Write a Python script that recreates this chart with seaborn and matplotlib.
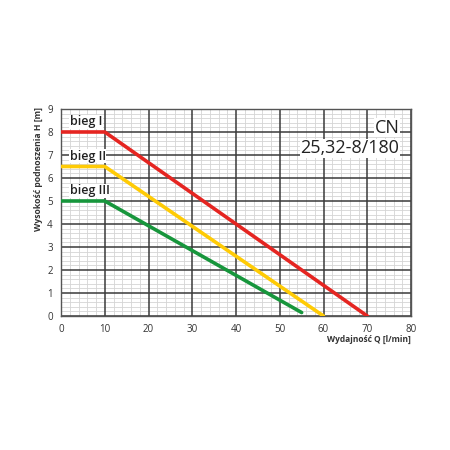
import matplotlib
matplotlib.use("Agg")
import matplotlib.pyplot as plt
import seaborn as sns
import pandas as pd
from matplotlib.ticker import MultipleLocator

# Data
speeds = ["bieg I", "bieg II", "bieg III"]
q_bieg1 = [0, 10, 70]
h_bieg1 = [8, 8, 0]
q_bieg2 = [0, 10, 60]
h_bieg2 = [6.5, 6.5, 0]
q_bieg3 = [0, 10, 55]
h_bieg3 = [5, 5, 0.15]
colors = ["#e52521", "#ffcb05", "#17963c"]
x_ticks = [0, 10, 20, 30, 40, 50, 60, 70, 80]
y_ticks = [0, 1, 2, 3, 4, 5, 6, 7, 8, 9]

rows = []
for name, qs, hs in zip(speeds, [q_bieg1, q_bieg2, q_bieg3], [h_bieg1, h_bieg2, h_bieg3]):
    for q, h in zip(qs, hs):
        rows.append({"bieg": name, "Q": q, "H": h})
df = pd.DataFrame(rows)

sns.set_style("white")
plt.rcParams["font.family"] = ["Open Sans", "DejaVu Sans"]

fig = plt.figure(figsize=(4.5, 4.5), dpi=100)
ax = fig.add_axes([0.1356, 0.2978, 0.7778, 0.46])

ax.xaxis.set_minor_locator(MultipleLocator(2))
ax.yaxis.set_minor_locator(MultipleLocator(0.2))
ax.grid(which="minor", color="#d4d4d4", lw=0.6, zorder=0)
ax.grid(which="major", visible=False)
ax.set_axisbelow(True)
for xv in x_ticks:
    ax.axvline(xv, color="#3a3a3a", lw=1.1, zorder=1)
for yv in y_ticks:
    ax.axhline(yv, color="#3a3a3a", lw=1.1, zorder=1)

sns.lineplot(data=df, x="Q", y="H", hue="bieg", palette=colors, lw=2.6,
             legend=False, ax=ax, sort=False, zorder=3)

ax.set_xlim(0, 80)
ax.set_ylim(0, 9)
ax.set_xticks(x_ticks)
ax.set_yticks(y_ticks)
ax.tick_params(axis="both", which="major", labelsize=7, colors="#333333",
               length=3, width=0.8, pad=3)
ax.tick_params(which="minor", length=0)
for sp in ax.spines.values():
    sp.set_color("#555555")
    sp.set_linewidth(1.0)

ax.set_xlabel("")
ax.set_ylabel("")
ax.text(-0.064, 1.01, "Wysokość podnoszenia H [m]", transform=ax.transAxes,
        rotation=90, ha="center", va="top", fontsize=6.2, color="#333333",
        fontweight="bold")
ax.text(1.0, -0.09, "Wydajność Q [l/min]", transform=ax.transAxes, ha="right",
        va="top", fontsize=6.0, color="#333333", fontweight="bold")

label_y = [8.45, 6.95, 5.45]
for name, yv in zip(speeds, label_y):
    ax.text(2, yv, name, fontsize=9, color="#222222", fontweight="semibold",
            va="center", ha="left", zorder=4,
            bbox=dict(facecolor="white", edgecolor="none", pad=0.3))

ax.text(0.967, 0.91, "CN", transform=ax.transAxes, ha="right", va="center",
        fontsize=13, color="#222222", zorder=4,
        bbox=dict(facecolor="white", edgecolor="none", pad=0.2))
ax.text(0.967, 0.81, "25,32-8/180", transform=ax.transAxes, ha="right",
        va="center", fontsize=13, color="#222222", zorder=4,
        bbox=dict(facecolor="white", edgecolor="none", pad=0.2))

fig.savefig("out.png", dpi=100, facecolor="white")
